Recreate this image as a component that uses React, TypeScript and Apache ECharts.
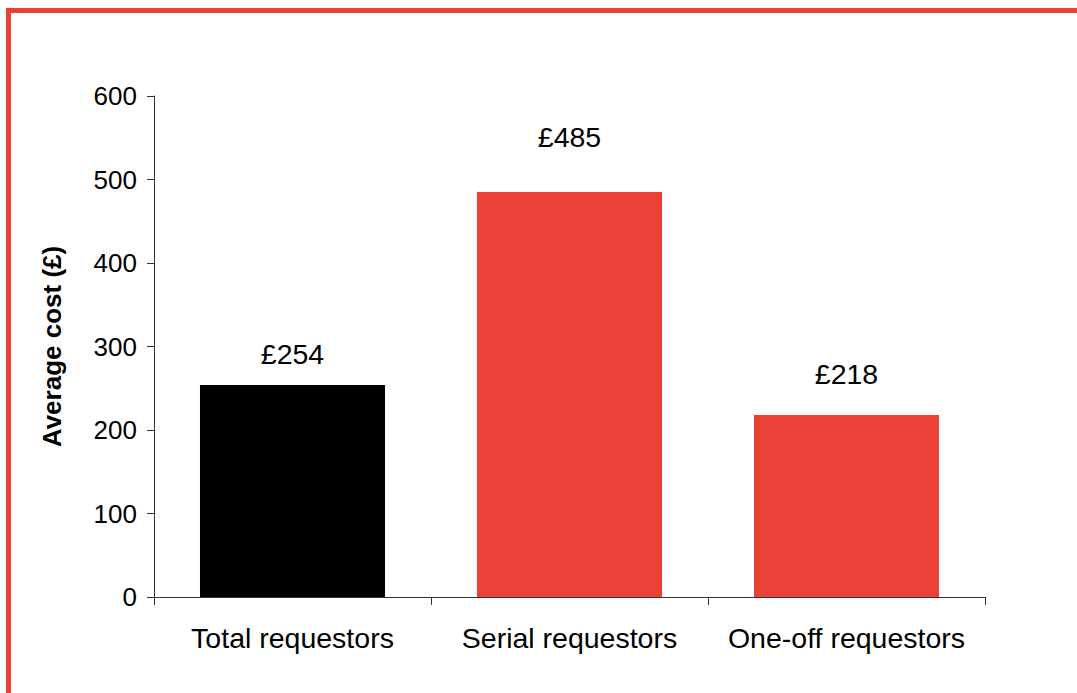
import React, { useEffect, useRef } from "react";
import * as echarts from "echarts";

const categories = ["Total requestors", "Serial requestors", "One-off requestors"];
const values = [254, 485, 218];
const yTicks = { min: 0, max: 600, interval: 100 };
const axisName = "Average cost (£)";

const barColors = ["#000000", "#E94136", "#E94136"];
const labelDistances = [16, 41, 26];
const FONT = "'Liberation Sans', Arial, sans-serif";

export default function App() {
  const ref = useRef<HTMLDivElement>(null);
  useEffect(() => {
    if (!ref.current) return;
    const chart = echarts.init(ref.current, null, { renderer: "svg" });
    chart.setOption({
      animation: false,
      backgroundColor: "#ffffff",
      textStyle: { fontFamily: FONT },
      grid: { left: 154, right: 92, top: 96, bottom: 96, containLabel: false },
      graphic: [
        { type: "rect", shape: { x: 6, y: 8, width: 1071, height: 5 }, style: { fill: "#E94136" } },
        { type: "rect", shape: { x: 6, y: 8, width: 5, height: 685 }, style: { fill: "#E94136" } },
      ],
      xAxis: {
        type: "category",
        data: categories,
        axisLine: { show: true, lineStyle: { color: "#333", width: 1 } },
        axisTick: { show: true, length: 8, lineStyle: { color: "#333" } },
        axisLabel: { color: "#000", fontSize: 28.5, margin: 26, fontFamily: FONT, interval: 0 },
        splitLine: { show: false },
      },
      yAxis: {
        type: "value",
        min: yTicks.min,
        max: yTicks.max,
        interval: yTicks.interval,
        name: axisName,
        nameLocation: "middle",
        nameRotate: 90,
        nameGap: 89,
        nameTextStyle: { color: "#000", fontSize: 26, fontWeight: "bold", fontFamily: FONT },
        axisLine: { show: true, lineStyle: { color: "#333", width: 1 } },
        axisTick: { show: true, length: 7, lineStyle: { color: "#333" } },
        axisLabel: { color: "#000", fontSize: 26, margin: 17, fontFamily: FONT },
        splitLine: { show: false },
      },
      series: [
        {
          type: "bar",
          barCategoryGap: "33.2%",
          data: values.map((v, i) => ({
            value: v,
            itemStyle: { color: barColors[i] },
            label: { distance: labelDistances[i] },
          })),
          label: {
            show: true,
            position: "top",
            color: "#000",
            fontSize: 28.5,
            fontFamily: FONT,
            formatter: (p: any) => "£" + p.value,
          },
        },
      ],
    });
    return () => chart.dispose();
  }, []);
  return (
    <div
      ref={ref}
      style={{ position: "absolute", left: 0, top: 0, width: 1077, height: 693 }}
    />
  );
}
